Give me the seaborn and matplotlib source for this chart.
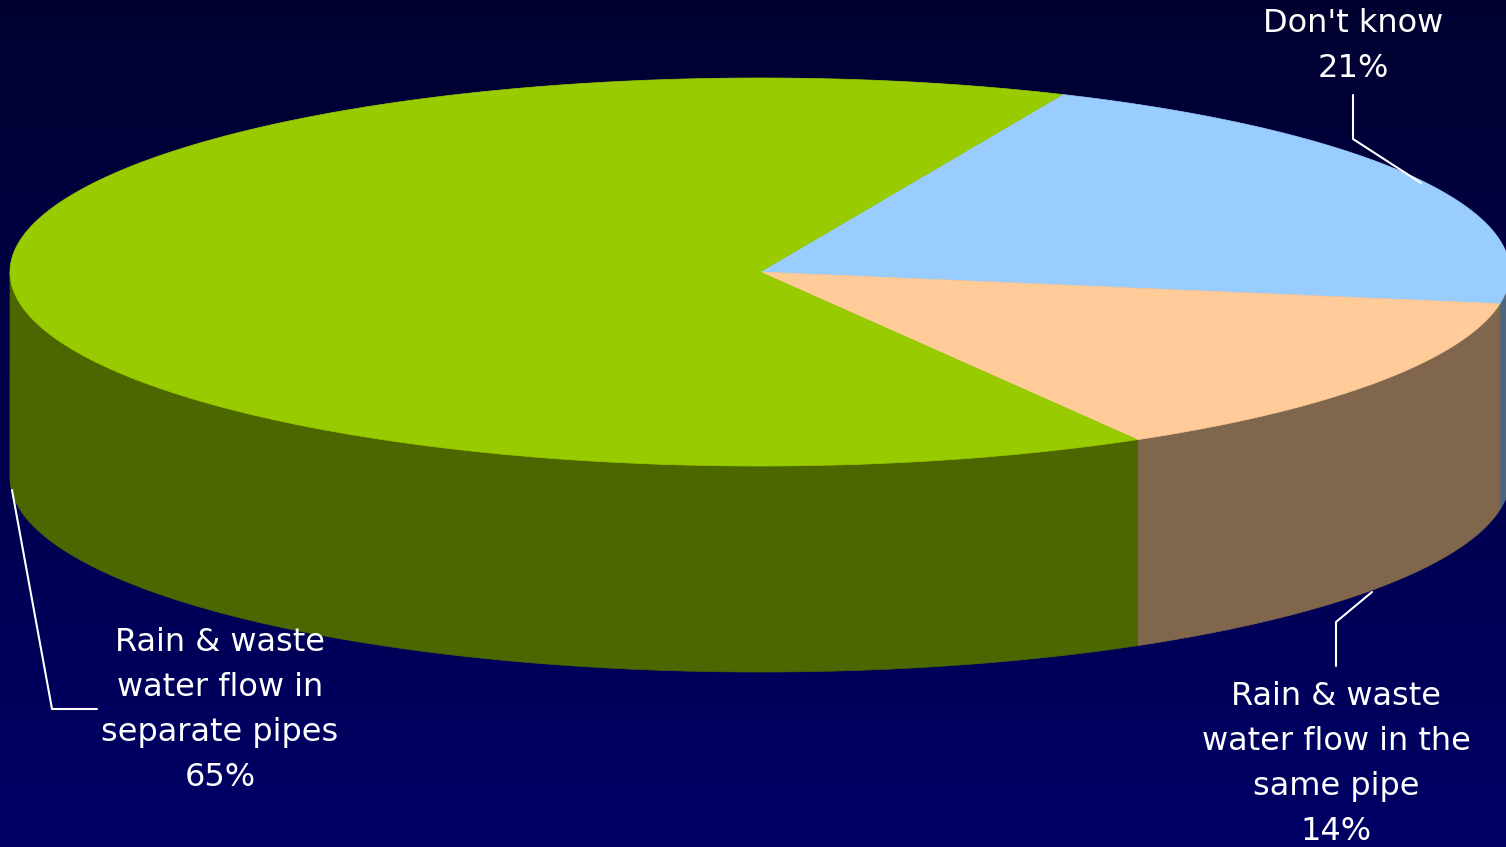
import numpy as np
import matplotlib
matplotlib.use("Agg")
import matplotlib.pyplot as plt
import seaborn as sns
from matplotlib.patches import Polygon

# Survey answers, in clockwise order starting from the top boundary
labels = ["Don't know",
          "Rain & waste\nwater flow in the\nsame pipe",
          "Rain & waste\nwater flow in\nseparate pipes"]
values = [21, 14, 65]
top_colors = ["#99CCFF", "#FFCC99", "#99CC00"]
side_colors = ["#4C667F", "#7F664C", "#4C6600"]

sns.set_theme(style="white")
plt.rcParams["font.family"] = ["DejaVu Sans"]

W, H = 1506, 847
fig = plt.figure(figsize=(W / 100, H / 100), dpi=100)
ax = fig.add_axes([0, 0, 1, 1])
ax.set_xlim(0, W)
ax.set_ylim(H, 0)
ax.axis("off")

# vertical background gradient, dark navy to brighter navy
grad = np.linspace(0, 1, 256).reshape(-1, 1)
c_top = np.array([0x00, 0x00, 0x30]) / 255
c_bot = np.array([0x00, 0x00, 0x66]) / 255
img = c_top + (c_bot - c_top) * grad[..., None]
img = np.repeat(img, 2, axis=1)
ax.imshow(img, extent=[0, W, H, 0], aspect="auto", zorder=0)

# pie geometry (tilted disc)
cx, cy, rx, ry, depth = 760, 272, 750, 194, 206
start = 66.2

def pt(t_deg, dy=0.0):
    t = np.radians(t_deg)
    return cx + rx * np.cos(t), cy - ry * np.sin(t) + dy

total = float(sum(values))
bounds = [start]
for v in values:
    bounds.append(bounds[-1] - 360.0 * v / total)

# side walls: only the front half (angles 180..360) is visible
for i in range(len(values)):
    lo, hi = bounds[i + 1], bounds[i]
    segs = []
    for shift in (-360, 0, 360):
        v_lo, v_hi = max(lo + shift, 180), min(hi + shift, 360)
        if v_hi > v_lo:
            segs.append((v_lo, v_hi))
    for v_lo, v_hi in segs:
        ts = np.linspace(v_lo, v_hi, 200)
        xs, ys = pt(ts)
        poly = np.vstack([np.column_stack([xs, ys]),
                          np.column_stack([xs[::-1], ys[::-1] + depth])])
        ax.add_patch(Polygon(poly, closed=True, facecolor=side_colors[i],
                             edgecolor=side_colors[i], lw=0.5, zorder=2))

# top faces
for i in range(len(values)):
    ts = np.linspace(bounds[i], bounds[i + 1], 400)
    xs, ys = pt(ts)
    poly = np.vstack([[cx, cy], np.column_stack([xs, ys])])
    ax.add_patch(Polygon(poly, closed=True, facecolor=top_colors[i],
                         edgecolor=top_colors[i], lw=0.5, zorder=3))

# labels with leader lines
txt = dict(color="white", fontsize=23, ha="center", va="center",
           linespacing=1.57, zorder=5)
lab = [f"{labels[i]}\n{values[i]}%" for i in range(len(values))]
ax.text(1353, 46, lab[0], **txt)
ax.text(1336, 764, lab[1], **txt)
ax.text(220, 710, lab[2], **txt)

lk = dict(color="white", lw=1.5, zorder=4)
ax.plot([1421, 1353, 1353], [183, 139, 95], **lk)
ax.plot([1372, 1336, 1336], [592, 622, 666], **lk)
ax.plot([12, 52, 97], [490, 709, 709], **lk)

fig.savefig("out.png", dpi=100)
